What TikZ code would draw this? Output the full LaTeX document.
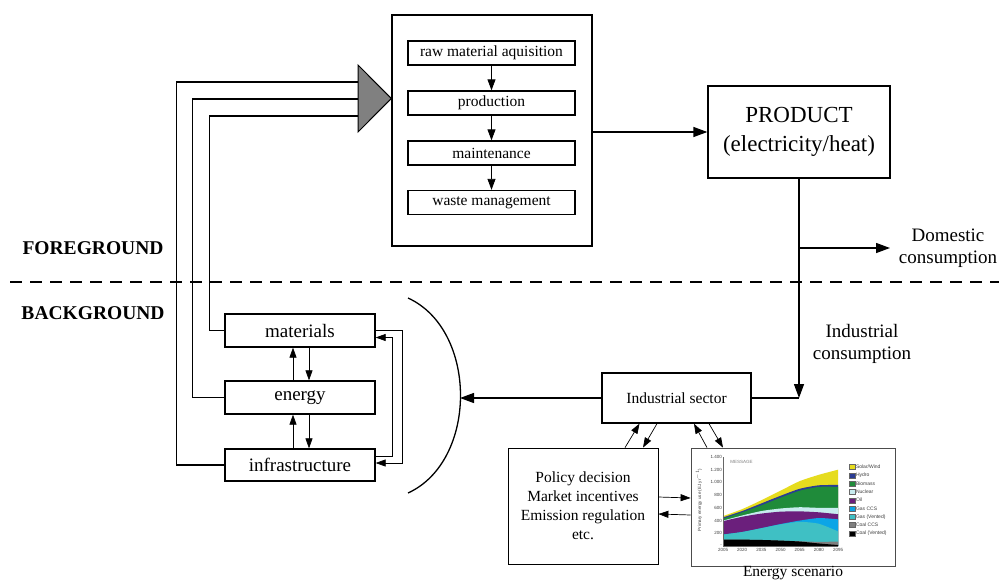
\documentclass[tikz,border=0pt]{standalone}
\usepackage{fontspec}
\setmainfont{Liberation Serif}
\newfontfamily\chartfont{Liberation Sans}
\usetikzlibrary{arrows.meta}
\definecolor{cSolar}{HTML}{E6DC1E}
\definecolor{cHydro}{HTML}{2A3C94}
\definecolor{cBio}{HTML}{1F8B3A}
\definecolor{cNuc}{HTML}{C8ECEF}
\definecolor{cOil}{HTML}{6B1F7C}
\definecolor{cGasCCS}{HTML}{0CA5E6}
\definecolor{cGasV}{HTML}{3FC0C4}
\definecolor{cCoalCCS}{HTML}{7F7F7F}
\definecolor{cCoalV}{HTML}{000000}
\newcommand\chartlayer[8]{\fill[#1] (0,0) -- plot[smooth,tension=0.4] coordinates {(0,#2) (15,#3) (30,#4) (45,#5) (60,#6) (75,#7) (90,#8)} -- (90,0) -- cycle;}
\newcommand\legitem[3]{\filldraw[fill=#2,draw=black!60,line width=0.3pt] (849,#1-2.5) rectangle (855,#1+2.5); \node[anchor=west,inner sep=0.8pt,font=\chartfont\fontsize{5}{5}\selectfont,text=black!75] (lg#2) at (855,#1) {#3};}
\tikzset{
  box/.style={draw, line width=1.3pt, inner sep=0pt, align=center},
  fsmall/.style={font=\fontsize{15.5}{19}\selectfont},
  fmid/.style={font=\fontsize{19}{22}\selectfont},
  arr/.style={-{Triangle[length=14pt,width=10pt]}, line width=1.3pt},
  tarr/.style={-{Triangle[length=10pt,width=7pt]}, line width=0.7pt},
  parr/.style={-{Triangle[length=11pt,width=8pt]}, line width=0.8pt},
}
\begin{document}
\begin{tikzpicture}[x=1pt,y=-1pt]
\useasboundingbox (0,0) rectangle (999,581);
\fill[white] (0,0) rectangle (999,581);

% process box
\node[box, minimum width=200pt, minimum height=231pt] (proc) at (492,130.5) {};
\node[box, fsmall, minimum width=167pt, minimum height=24pt] (raw) at (491.5,53) {raw material aquisition};
\node[box, fsmall, minimum width=167pt, minimum height=24pt] (prodn) at (491.5,103) {production};
\node[box, fsmall, minimum width=167pt, minimum height=24pt] (maint) at (491.5,153) {maintenance};
\node[box, fsmall, minimum width=167pt, minimum height=24pt] (waste) at (491.5,202.5) {waste management};
\draw[parr] (raw) -- (prodn);
\draw[parr] (prodn) -- (maint);
\draw[parr] (maint) -- (waste);

% product
\node[box, font=\fontsize{23}{29}\selectfont, minimum width=182pt, minimum height=92pt] (prod) at (799,132) {PRODUCT\\(electricity/heat)};
\draw[arr] (proc.east |- prod.west) -- (prod.west);

% foreground / background
\node[font=\bfseries\fontsize{19.5}{22}\selectfont] (fg) at (93,248) {FOREGROUND};
\node[font=\bfseries\fontsize{19.5}{22}\selectfont] (bg) at (93,313) {BACKGROUND};
\coordinate (dl) at (10,282);
\coordinate (dr) at (999,282);
\draw[line width=1.1pt, dash pattern=on 12pt off 8pt] (dl) -- (dr);

% industrial sector
\node[box, fsmall, minimum width=149pt, minimum height=50pt] (ind) at (676.5,398) {Industrial sector};
\coordinate (join) at (prod.south |- ind.east);
\draw[arr] (prod.south) -- (join);
\draw[line width=1.3pt] (ind.east) -- (join);
\coordinate (dj) at (prod.south |- 0,248);
\coordinate (dend) at (890,248);
\draw[arr] (dj) -- (dend);
\node[fmid, align=center] (dom) at (948,248) {Domestic\\consumption};
\node[fmid, align=center] (indc) at (862,344) {Industrial\\consumption};

% background boxes
\node[box, fmid, minimum width=150pt, minimum height=33pt] (mat) at (300,330.5) {materials};
\node[box, fmid, minimum width=150pt, minimum height=33pt] (en) at (300,397.5) {energy};
\node[box, fmid, minimum width=150pt, minimum height=32pt] (inf) at (300,465) {infrastructure};
\draw[tarr] ([xshift=-7pt]en.north) -- ([xshift=-7pt]mat.south);
\draw[tarr] ([xshift=9pt]mat.south) -- ([xshift=9pt]en.north);
\draw[tarr] ([xshift=-7pt]inf.north) -- ([xshift=-7pt]en.south);
\draw[tarr] ([xshift=9pt]en.south) -- ([xshift=9pt]inf.north);
\draw[tarr] (mat.east) -- ++(27,0) |- ([yshift=2pt]inf.east);
\draw[tarr] ([yshift=9pt]inf.east) -- ++(17,0) |- ([yshift=-7pt]mat.east);

% bracket
\coordinate (bt) at (408,298);
\coordinate (bb) at (408,493);
\coordinate (arcm) at (460,398);
\draw[line width=1.3pt] (bt) .. controls (478,330) and (478,461) .. (bb);
\draw[arr] (ind.west) -- (arcm);

% triangle + feedback lines
\coordinate (t1) at (358,82);
\coordinate (t2) at (358,99);
\coordinate (t3) at (358,116);
\coordinate (tip) at (proc.west |- 0,98.5);
\filldraw[fill=black!50, line width=1pt, line join=miter] (358,65) -- (tip) -- (358,132) -- cycle;
\draw[line width=1.3pt] (inf.west) -- ++(-48,0) |- (t1);
\draw[line width=1.3pt] (en.west) -- ++(-32,0) |- (t2);
\draw[line width=1.3pt] (mat.west) -- ++(-15,0) |- (t3);

% policy box
\node[draw, line width=0.8pt, fsmall, align=center, minimum width=150pt, minimum height=116pt, inner sep=0pt] (pol) at (583,506) {Policy decision\\Market incentives\\Emission regulation\\etc.};
% chart box
\node[draw=black!70, line width=0.8pt, minimum width=204pt, minimum height=118pt, inner sep=0pt] (chart) at (793,507) {};
\node[fsmall] (escen) at (793,573) {Energy scenario};

\draw[tarr] ([xshift=42pt]pol.north) -- ([xshift=-37pt]ind.south);
\draw[tarr] ([xshift=-19.5pt]ind.south) -- ([xshift=60pt]pol.north);
\draw[tarr] ([xshift=-86pt]chart.north) -- ([xshift=17.5pt]ind.south);
\draw[tarr] ([xshift=32.5pt]ind.south) -- ([xshift=-70pt]chart.north);
\draw[tarr] ([yshift=9pt]pol.east) -- ([yshift=9pt]chart.west);
\draw[tarr] ([yshift=-8pt]chart.west) -- ([yshift=-8pt]pol.east);

% chart content
\begin{scope}[shift={(723,546)}, x=1.2778pt, y=0.06357pt]
\chartlayer{cSolar}{470}{580}{720}{870}{1020}{1120}{1200}
\chartlayer{cHydro}{450}{550}{670}{790}{900}{955}{960}
\chartlayer{cBio}{430}{530}{640}{760}{870}{930}{930}
\chartlayer{cNuc}{400}{480}{550}{590}{610}{600}{600}
\chartlayer{cOil}{390}{460}{510}{540}{545}{530}{500}
\chartlayer{cGasCCS}{180}{220}{280}{345}{400}{440}{420}
\chartlayer{cGasV}{180}{220}{280}{340}{380}{350}{230}
\chartlayer{cCoalCCS}{100}{100}{95}{85}{75}{65}{70}
\chartlayer{cCoalV}{100}{100}{95}{85}{70}{40}{15}
\draw[black!60, line width=0.3pt] (0,0) -- (0,1400);
\draw[black!60, line width=0.3pt] (0,0) -- (90,0);
\foreach \v/\l in {0/-,200/200,400/400,600/600,800/800,1000/1.000,1200/1.200,1400/1.400}
  \node[anchor=east, inner sep=1pt, font=\chartfont\fontsize{4.5}{5}\selectfont, text=black!75] at (0,\v) {\l};
\foreach \t/\l in {0/2005,15/2020,30/2035,45/2050,60/2065,75/2080,90/2095}
  \node[anchor=north, inner sep=2pt, font=\chartfont\fontsize{4.5}{5}\selectfont, text=black!75] at (\t,0) {\l};
\node[anchor=west, font=\chartfont\fontsize{4.5}{5}\selectfont, text=black!50] at (3,1320) {MESSAGE};
\end{scope}
\node[rotate=90, font=\chartfont\fontsize{4.5}{5}\selectfont, text=black!75] (ylab) at (699,500) {Primary energy use (EJ yr$^{-1}$)};
\legitem{467}{cSolar}{Solar/Wind}
\legitem{475.3}{cHydro}{Hydro}
\legitem{483.6}{cBio}{Biomass}
\legitem{491.9}{cNuc}{Nuclear}
\legitem{500.2}{cOil}{Oil}
\legitem{508.5}{cGasCCS}{Gas CCS}
\legitem{516.8}{cGasV}{Gas (Vented)}
\legitem{525.1}{cCoalCCS}{Coal CCS}
\legitem{533.4}{cCoalV}{Coal (Vented)}
\end{tikzpicture}
\end{document}
